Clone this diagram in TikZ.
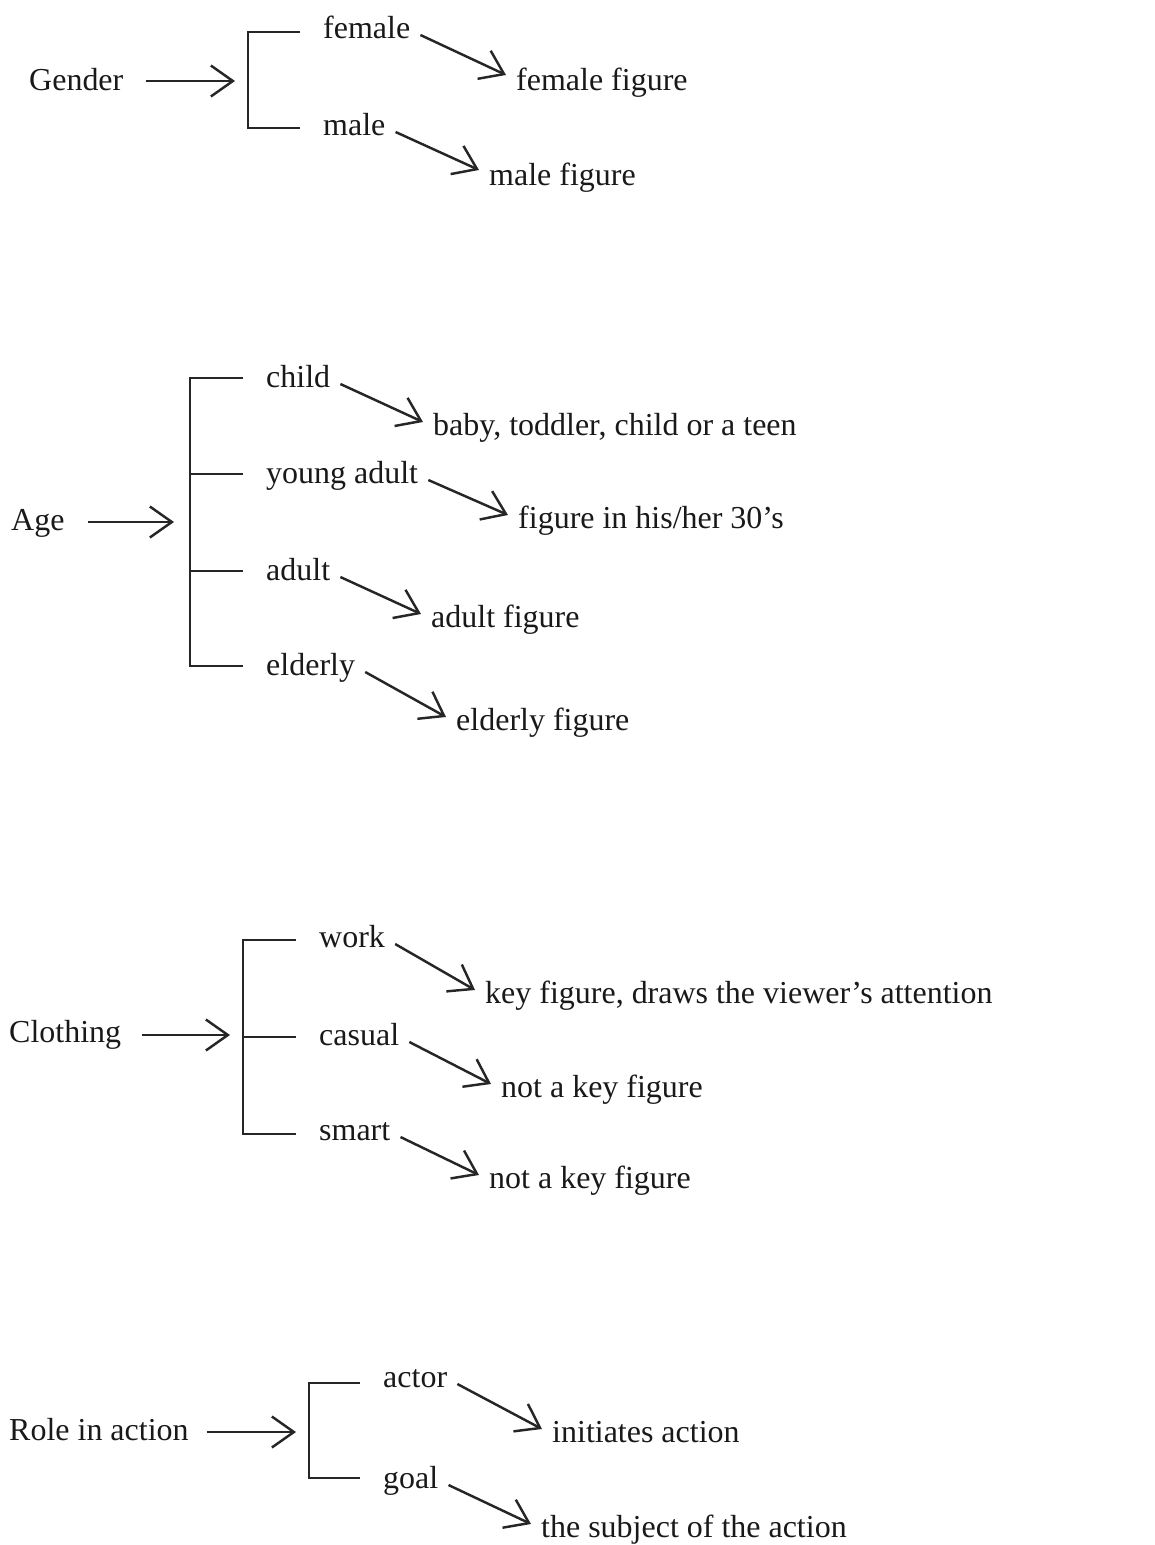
\documentclass[tikz,border=0pt]{standalone}
\usepackage{fontspec}
\setmainfont{Liberation Serif}
\usetikzlibrary{arrows.meta}
\begin{document}
\begin{tikzpicture}[x=0.02cm, y=-0.02cm, line width=1.4pt, draw=black!85,
  every node/.style={inner sep=0pt, anchor=base west, text=black!90, font=\fontsize{18.2}{22}\selectfont},
  arr/.style={-{Straight Barb[length=0.44cm, width=0.62cm]}}]
  \useasboundingbox (0,0) rectangle (1155,1545);

  % gender
  \node (gender) at (28,90) {Gender};
  \node (female) at (322,38) {female};
  \node (male) at (322,135) {male};
  \node (ffig) at (515,90) {female figure};
  \node (mfig) at (488,185) {male figure};
  \coordinate (gbr) at (235,81);
  \draw (300,32) -- (248,32) -- (248,128) -- (300,128);
  \draw[arr] ([shift={(21,-9)}]gender.base east) -- (gbr);
  \draw[arr] ([shift={(9,-3)}]female.base east) -- ([shift={(-9,-15)}]ffig.base west);
  \draw[arr] ([shift={(9,-3)}]male.base east) -- ([shift={(-9,-15)}]mfig.base west);

  % age
  \node (age) at (10,530) {Age};
  \node (child) at (265,387) {child};
  \node (young) at (265,483) {young adult};
  \node (adult) at (265,580) {adult};
  \node (elderly) at (265,675) {elderly};
  \node (baby) at (432,435) {baby, toddler, child or a teen};
  \node (thirty) at (517,528) {figure in his/her 30’s};
  \node (adfig) at (430,627) {adult figure};
  \node (elfig) at (455,730) {elderly figure};
  \coordinate (abr) at (174,522);
  \draw (243,378) -- (190,378) -- (190,666) -- (243,666);
  \draw (190,474) -- (243,474);
  \draw (190,571) -- (243,571);
  \draw[arr] ([shift={(22,-8)}]age.base east) -- (abr);
  \draw[arr] ([shift={(9,-3)}]child.base east) -- ([shift={(-9,-13)}]baby.base west);
  \draw[arr] ([shift={(9,-3)}]young.base east) -- ([shift={(-9,-13)}]thirty.base west);
  \draw[arr] ([shift={(9,-3)}]adult.base east) -- ([shift={(-9,-13)}]adfig.base west);
  \draw[arr] ([shift={(9,-3)}]elderly.base east) -- ([shift={(-9,-13)}]elfig.base west);

  % clothing
  \node (clothing) at (8,1042) {Clothing};
  \node (work) at (318,947) {work};
  \node (casual) at (318,1045) {casual};
  \node (smart) at (318,1140) {smart};
  \node (keyfig) at (484,1003) {key figure, draws the viewer’s attention};
  \node (notkey) at (500,1097) {not a key figure};
  \node (notkeyb) at (488,1188) {not a key figure};
  \coordinate (cbr) at (230,1035);
  \draw (296,940) -- (243,940) -- (243,1134) -- (296,1134);
  \draw (243,1037) -- (296,1037);
  \draw[arr] ([shift={(20,-7)}]clothing.base east) -- (cbr);
  \draw[arr] ([shift={(9,-3)}]work.base east) -- ([shift={(-9,-13)}]keyfig.base west);
  \draw[arr] ([shift={(9,-3)}]casual.base east) -- ([shift={(-9,-13)}]notkey.base west);
  \draw[arr] ([shift={(9,-3)}]smart.base east) -- ([shift={(-9,-13)}]notkeyb.base west);

  % role in action
  \node (role) at (8,1440) {Role in action};
  \node (actor) at (382,1387) {actor};
  \node (goal) at (382,1488) {goal};
  \node (init) at (551,1442) {initiates action};
  \node (subj) at (540,1537) {the subject of the action};
  \coordinate (rbr) at (296,1432);
  \draw (360,1383) -- (309,1383) -- (309,1478) -- (360,1478);
  \draw[arr] ([shift={(17,-8)}]role.base east) -- (rbr);
  \draw[arr] ([shift={(9,-3)}]actor.base east) -- ([shift={(-9,-13)}]init.base west);
  \draw[arr] ([shift={(9,-3)}]goal.base east) -- ([shift={(-9,-13)}]subj.base west);
\end{tikzpicture}
\end{document}
